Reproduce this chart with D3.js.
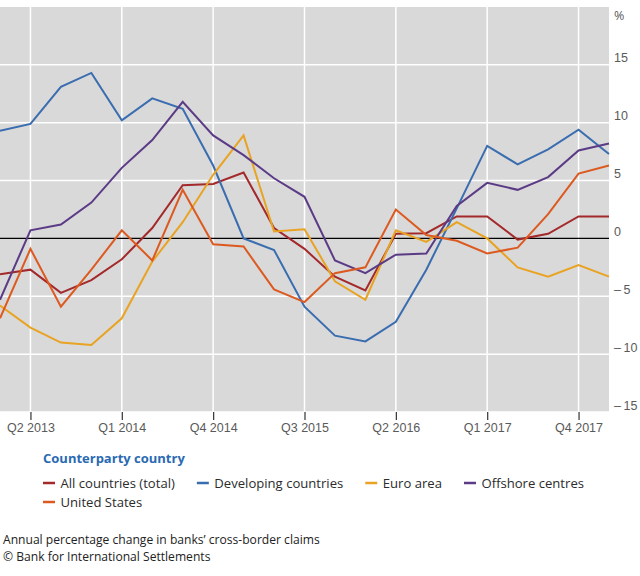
<!DOCTYPE html>
<html>
<head>
  <script src="https://d3js.org/d3.v7.min.js"></script>
  <style>
    body { margin: 0; background: #fff; }
    svg { font-family: "Open Sans", "Noto Sans", sans-serif; }
    .tick-label { fill: #5a5a5a; font-size: 12.5px; }
    .legend-text { fill: #2b2b2b; font-size: 13.1px; }
    .legend-title { fill: #2a6ab3; font-size: 13px; font-weight: bold; }
    .note { fill: #222; font-size: 12.1px; }
  </style>
</head>
<body>
  <script>
    // Quarters Q1 2013 .. Q1 2018
    var quarters = ["Q1 2013", "Q2 2013", "Q3 2013", "Q4 2013",
                    "Q1 2014", "Q2 2014", "Q3 2014", "Q4 2014",
                    "Q1 2015", "Q2 2015", "Q3 2015", "Q4 2015",
                    "Q1 2016", "Q2 2016", "Q3 2016", "Q4 2016",
                    "Q1 2017", "Q2 2017", "Q3 2017", "Q4 2017",
                    "Q1 2018"];
    var xTickLabels = ["Q2 2013", "Q1 2014", "Q4 2014", "Q3 2015", "Q2 2016", "Q1 2017", "Q4 2017"];
    var yTicks = [-15, -10, -5, 0, 5, 10, 15];

    var seriesNames = ["All countries (total)", "Developing countries", "Euro area", "Offshore centres", "United States"];
    var seriesColors = ["#a3292b", "#3a6db0", "#e9a322", "#5b3b86", "#dc5a20"];

    var allCountries = [-3.1, -2.7, -4.7, -3.6, -1.8, 0.9, 4.6, 4.7, 5.7, 0.9, -0.9,
                        -3.3, -4.5, 0.4, 0.45, 1.9, 1.9, -0.1, 0.4, 1.9, 1.9];
    var developing = [9.3, 9.9, 13.1, 14.3, 10.2, 12.1, 11.2, 6.3, 0.0, -1.0, -5.9,
                      -8.4, -8.9, -7.2, -2.7, 2.6, 8.0, 6.4, 7.7, 9.4, 7.3];
    var euroArea = [-5.8, -7.7, -9.0, -9.2, -6.9, -2.0, 1.4, 5.5, 8.9, 0.6, 0.8,
                    -3.7, -5.3, 0.7, -0.3, 1.4, 0.0, -2.5, -3.3, -2.3, -3.3];
    var offshore = [-5.3, 0.7, 1.2, 3.1, 6.1, 8.5, 11.8, 8.9, 7.2, 5.2, 3.6,
                    -1.9, -3.0, -1.4, -1.3, 2.8, 4.8, 4.2, 5.3, 7.6, 8.2];
    var unitedStates = [-6.9, -0.9, -5.9, -2.7, 0.7, -1.9, 4.2, -0.5, -0.7, -4.4, -5.5,
                        -3.0, -2.5, 2.5, 0.3, -0.2, -1.3, -0.8, 2.1, 5.6, 6.3];
    var seriesValues = [allCountries, developing, euroArea, offshore, unitedStates];

    var width = 640, height = 576;
    var plot = { left: 0, right: 609, top: 7, bottom: 412 };

    var svg = d3.select("body")
      .append("svg")
      .attr("width", width)
      .attr("height", height);

    var x = d3.scalePoint()
      .domain(quarters)
      .range([plot.left, plot.right]);

    var y = d3.scaleLinear()
      .domain([-15, 20])
      .range([plot.bottom, plot.top]);

    // background
    svg.append("rect")
      .attr("x", plot.left)
      .attr("y", plot.top)
      .attr("width", plot.right - plot.left)
      .attr("height", plot.bottom - plot.top)
      .attr("fill", "#d9d9d9");

    // horizontal grid
    svg.selectAll(".hgrid")
      .data(yTicks.filter(function (d) { return d !== 0; }))
      .enter().append("line")
      .attr("x1", plot.left)
      .attr("x2", plot.right)
      .attr("y1", function (d) { return y(d); })
      .attr("y2", function (d) { return y(d); })
      .attr("stroke", "#fff")
      .attr("stroke-width", 1.5);

    // vertical grid
    svg.selectAll(".vgrid")
      .data(xTickLabels)
      .enter().append("line")
      .attr("x1", function (d) { return x(d); })
      .attr("x2", function (d) { return x(d); })
      .attr("y1", plot.top)
      .attr("y2", plot.bottom)
      .attr("stroke", "#fff")
      .attr("stroke-width", 1.5);

    // x axis ticks and labels
    var xAxis = d3.axisBottom(x)
      .tickValues(xTickLabels)
      .tickSize(8)
      .tickPadding(3);
    var gx = svg.append("g")
      .attr("transform", "translate(0," + plot.bottom + ")")
      .call(xAxis);
    gx.select(".domain").remove();
    gx.selectAll(".tick line").attr("stroke", "#333").attr("stroke-width", 1.2);
    gx.selectAll(".tick text")
      .attr("class", "tick-label")
      .attr("font-family", null)
      .attr("font-size", null)
      .attr("fill", null);

    // y axis labels on the right
    var yAxis = d3.axisRight(y)
      .tickValues(yTicks)
      .tickSize(0)
      .tickPadding(5)
      .tickFormat(function (d) { return d < 0 ? "\u2013\u2009" + Math.abs(d) : d; });
    var gy = svg.append("g")
      .attr("transform", "translate(" + plot.right + ",-7)")
      .call(yAxis);
    gy.select(".domain").remove();
    gy.selectAll(".tick text")
      .attr("class", "tick-label")
      .attr("font-family", null)
      .attr("font-size", null)
      .attr("fill", null);

    svg.append("text")
      .attr("class", "tick-label")
      .attr("x", plot.right + 5)
      .attr("y", 20)
      .text("%");

    // zero line
    svg.append("line")
      .attr("x1", plot.left)
      .attr("x2", plot.right)
      .attr("y1", y(0))
      .attr("y2", y(0))
      .attr("stroke", "#000")
      .attr("stroke-width", 1.2);

    // series lines
    var line = d3.line()
      .x(function (d, i) { return x(quarters[i]); })
      .y(function (d) { return y(d); });

    svg.selectAll(".series")
      .data(seriesValues)
      .enter().append("path")
      .attr("d", line)
      .attr("fill", "none")
      .attr("stroke", function (d, i) { return seriesColors[i]; })
      .attr("stroke-width", 2)
      .attr("stroke-linejoin", "miter");

    // legend
    svg.append("text")
      .attr("class", "legend-title")
      .attr("x", 43)
      .attr("y", 462.5)
      .text("Counterparty country");

    var lx = 43, ly = 487.5;
    seriesNames.forEach(function (name, i) {
      if (i === 4) { lx = 43; ly = 506.5; }
      var g = svg.append("g").attr("transform", "translate(" + lx + "," + ly + ")");
      g.append("line")
        .attr("x1", 0).attr("x2", 12)
        .attr("y1", -4.5).attr("y2", -4.5)
        .attr("stroke", seriesColors[i])
        .attr("stroke-width", 2.5);
      var t = g.append("text")
        .attr("class", "legend-text")
        .attr("x", 17.5)
        .text(name);
      lx += 17.5 + t.node().getComputedTextLength() + 22;
    });

    // notes
    svg.append("text")
      .attr("class", "note")
      .attr("x", 3)
      .attr("y", 543.5)
      .text("Annual percentage change in banks\u2019 cross-border claims");
    svg.append("text")
      .attr("class", "note")
      .attr("x", 3)
      .attr("y", 561)
      .text("\u00a9 Bank for International Settlements");
  </script>
</body>
</html>
